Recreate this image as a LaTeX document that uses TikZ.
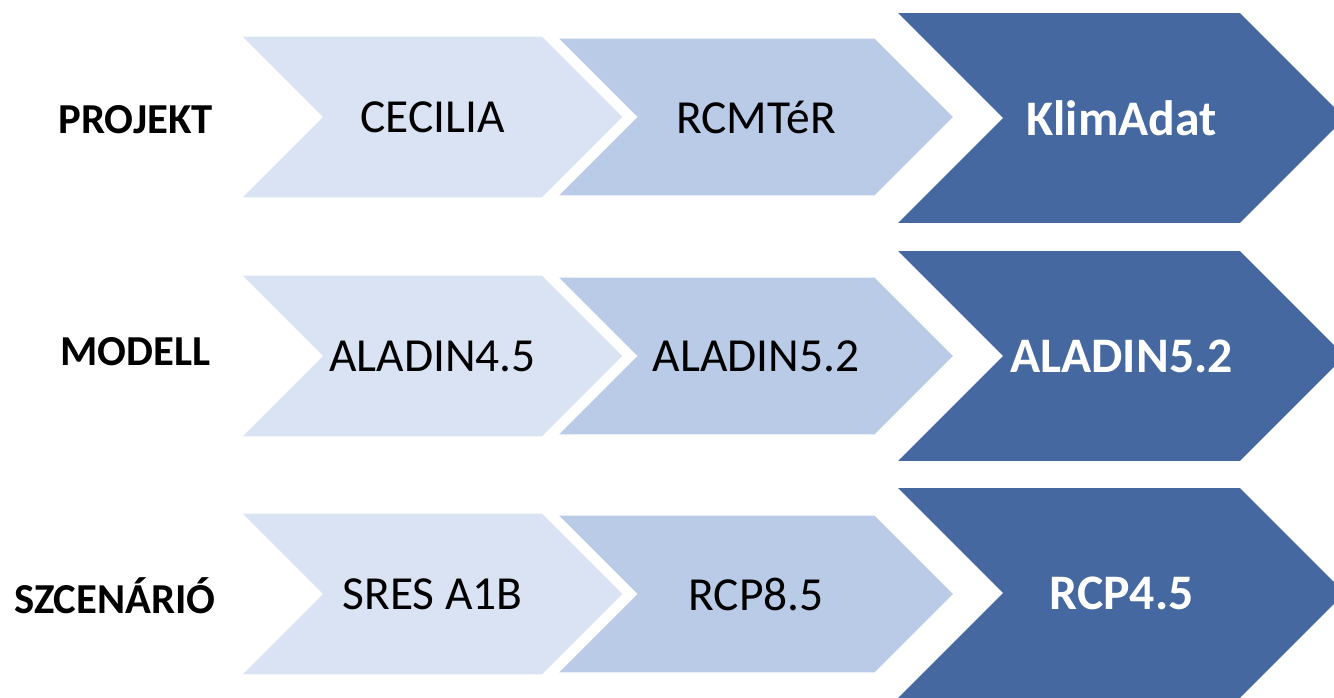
\documentclass[tikz,border=0pt]{standalone}
\usepackage{fontspec}
\setmainfont{Carlito}
\usetikzlibrary{shapes.symbols}
\definecolor{paleblue}{HTML}{DAE3F3}
\definecolor{midblue}{HTML}{B9CBE7}
\definecolor{deepblue}{HTML}{4568A0}

\begin{document}
\begin{tikzpicture}[
    x=0.02cm, y=-0.02cm,
    chev/.style={signal, signal from=west, signal to=east, signal pointer angle=90, draw=none, inner sep=0pt, outer sep=0pt},
    small/.style={chev, fill=paleblue, minimum width=7.6cm, minimum height=3.22cm, font=\fontsize{27}{30}\selectfont},
    middle/.style={chev, fill=midblue, minimum width=7.88cm, minimum height=3.14cm, font=\fontsize{27}{30}\selectfont},
    big/.style={chev, fill=deepblue, minimum width=8.94cm, minimum height=4.2cm, text=white, font=\fontsize{28.3}{32}\selectfont\bfseries},
    rowlbl/.style={anchor=east, inner sep=0pt, font=\fontsize{24.3}{28}\selectfont\bfseries}
]
\useasboundingbox (0,0) rectangle (1334,697);

\node[rowlbl] (lproj) at (213,120) {PROJEKT};
\node[small] (proj1) at (432.5,117) {CECILIA};
\node[middle] (proj2) at (756,117) {RCMTéR};
\node[big] (proj3) at (1121.5,118) {KlimAdat};

\node[rowlbl] (lmod) at (211,352) {MODELL};
\node[small] (mod1) at (432.5,356) {ALADIN4.5};
\node[middle] (mod2) at (756,356) {ALADIN5.2};
\node[big] (mod3) at (1121.5,356) {ALADIN5.2};

\node[rowlbl] (lscen) at (216,596) {SZCENÁRIÓ};
\node[small] (scen1) at (432.5,594) {SRES A1B};
\node[middle] (scen2) at (756,594) {RCP8.5};
\node[big] (scen3) at (1121.5,593) {RCP4.5};
\end{tikzpicture}
\end{document}
